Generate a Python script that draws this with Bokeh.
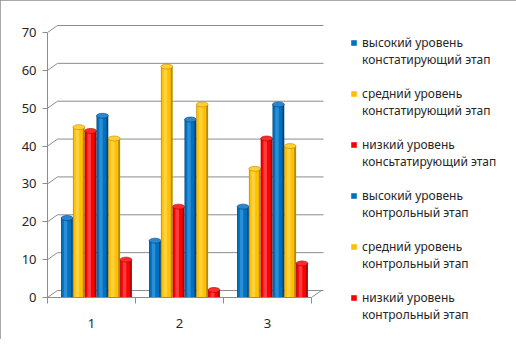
import numpy as np
from bokeh.plotting import figure
from bokeh.models import Range1d, FixedTicker, LinearAxis, Legend, LegendItem
from bokeh.embed import file_html
from bokeh.resources import INLINE

# ---- data ----
groups = [1, 2, 3]
group_labels = ["1", "2", "3"]
series_names = [
    ["высокий уровень", "констатирующий этап"],
    ["средний уровень", "констатирующий этап"],
    ["низкий уровень", "консьтатирующий этап"],
    ["высокий уровень", "контрольный этап"],
    ["средний уровень", "контрольный этап"],
    ["низкий уровень", "контрольный этап"],
]
high_ascertaining = [21, 15, 24]
medium_ascertaining = [45, 61, 34]
low_ascertaining = [44, 24, 42]
high_control = [48, 47, 51]
medium_control = [42, 51, 40]
low_control = [10, 2, 9]
y_ticks = [0, 10, 20, 30, 40, 50, 60, 70]

series_values = [high_ascertaining, medium_ascertaining, low_ascertaining,
                 high_control, medium_control, low_control]

# ---- styles ----
BLUE = ("#0070C0", "#00467A", "#3C9BE0", "#2A86D0")
YELLOW = ("#FFC000", "#B98A00", "#FFD95A", "#FFCF33")
RED = ("#FF0000", "#A80000", "#FF5A5A", "#FF2A2A")
palette = [BLUE, YELLOW, RED, BLUE, YELLOW, RED]
FONT = "Noto Sans"
GRID = "#8C8C8C"
TXT = "#262626"

H = 339
px_x = 88.0            # pixels per category
px_y = 265.0 / 70.0    # pixels per unit on y
frame_w, frame_h = 277, 274
x0 = 0.5
x1 = x0 + frame_w / px_x
y1 = frame_h / px_y
dx = 10 / px_x          # depth offset (x)
dy = 7 / px_y           # depth offset (y)

p = figure(width=500, height=H, frame_width=frame_w, frame_height=frame_h,
           output_backend="svg", toolbar_location=None,
           x_range=Range1d(x0, x1), y_range=Range1d(0, y1),
           x_axis_type=None, y_axis_type=None,
           min_border_left=47, min_border_right=176,
           min_border_top=23, min_border_bottom=42)
p.outline_line_color = None
p.border_fill_color = "white"
p.styles = {"outline": "1px solid #8C8C8C", "outline-offset": "-1px"}

# y axis
yax = LinearAxis(ticker=FixedTicker(ticks=y_ticks), bounds=(0, 70),
                 axis_line_color=GRID, major_tick_line_color=GRID,
                 major_tick_in=0, major_tick_out=5, minor_tick_line_color=None,
                 major_label_text_font=FONT, major_label_text_font_size="13px",
                 major_label_text_color=TXT, major_label_standoff=6)
p.add_layout(yax, "left")

# x axis: boundary ticks
xb = LinearAxis(ticker=FixedTicker(ticks=[0.5, 1.5, 2.5, 3.5]), bounds=(0.5, 3.5),
                axis_line_color=GRID, major_tick_line_color=GRID,
                major_tick_in=0, major_tick_out=6, minor_tick_line_color=None,
                major_label_overrides={0.5: "", 1.5: "", 2.5: "", 3.5: ""},
                major_label_text_font_size="1px", major_label_standoff=0)
p.add_layout(xb, "below")
# x axis: category labels
xl = LinearAxis(ticker=FixedTicker(ticks=groups),
                major_label_overrides={g: s for g, s in zip(groups, group_labels)},
                axis_line_color=None, major_tick_line_color=None,
                minor_tick_line_color=None,
                major_label_text_font=FONT, major_label_text_font_size="13px",
                major_label_text_color=TXT, major_label_standoff=9)
p.add_layout(xl, "below")

# back wall gridlines + depth diagonals
bx_end = x0 + dx + 266 / px_x
p.segment(x0=[x0 + dx] * len(y_ticks), y0=[v + dy for v in y_ticks],
          x1=[bx_end] * len(y_ticks), y1=[v + dy for v in y_ticks],
          line_color=GRID, line_width=1)
p.segment(x0=[x0] * len(y_ticks), y0=y_ticks,
          x1=[x0 + dx] * len(y_ticks), y1=[v + dy for v in y_ticks],
          line_color=GRID, line_width=1)
p.segment(x0=[3.5], y0=[0], x1=[3.5 + dx], y1=[dy], line_color=GRID, line_width=1)

# cylinders
w = 11.8 / px_x
shift = 5 / px_x
legend_renderers = []
for i, (vals, col) in enumerate(zip(series_values, palette)):
    main, dark, hi, top = col
    xs = np.array(groups, dtype=float) + (i - 2.5) * w + shift
    tops = np.array(vals, dtype=float)
    p.vbar(x=xs, top=tops, bottom=0, width=w, fill_color=dark, line_color=None)
    r = p.vbar(x=xs - 0.05 * w, top=tops, bottom=0, width=0.78 * w,
               fill_color=main, line_color=None)
    legend_renderers.append(r)
    p.vbar(x=xs - 0.12 * w, top=tops, bottom=0, width=0.3 * w, fill_color=hi,
           fill_alpha=0.7, line_color=None)
    p.ellipse(x=xs, y=tops, width=w, height=5, height_units="screen",
              fill_color=top, line_color=dark, line_width=0.6)

# invisible renderer for legend rows without a swatch
blank = p.vbar(x=[], top=[], width=0.1, fill_alpha=0, line_alpha=0)

items = []
for i, (names, r) in enumerate(zip(series_names, legend_renderers)):
    items.append(LegendItem(label=names[0], renderers=[r]))
    items.append(LegendItem(label=names[1], renderers=[blank]))
    if i < len(series_names) - 1:
        items.append(LegendItem(label=" ", renderers=[blank]))

row_h = 17
n_rows = len(items)
leg_top = 42 - row_h / 2           # page y of legend top
leg_bottom = leg_top + n_rows * row_h
legend = Legend(items=items, location=(350 - 324, int(round(297 - leg_bottom))),
                orientation="vertical",
                glyph_width=7, glyph_height=7, label_standoff=5,
                label_height=row_h, spacing=0, padding=0, margin=0,
                border_line_color=None, background_fill_alpha=0,
                label_text_font=FONT, label_text_font_size="12px",
                label_text_color=TXT)
p.add_layout(legend, "right")

open("out.html", "w").write(file_html(p, INLINE))
